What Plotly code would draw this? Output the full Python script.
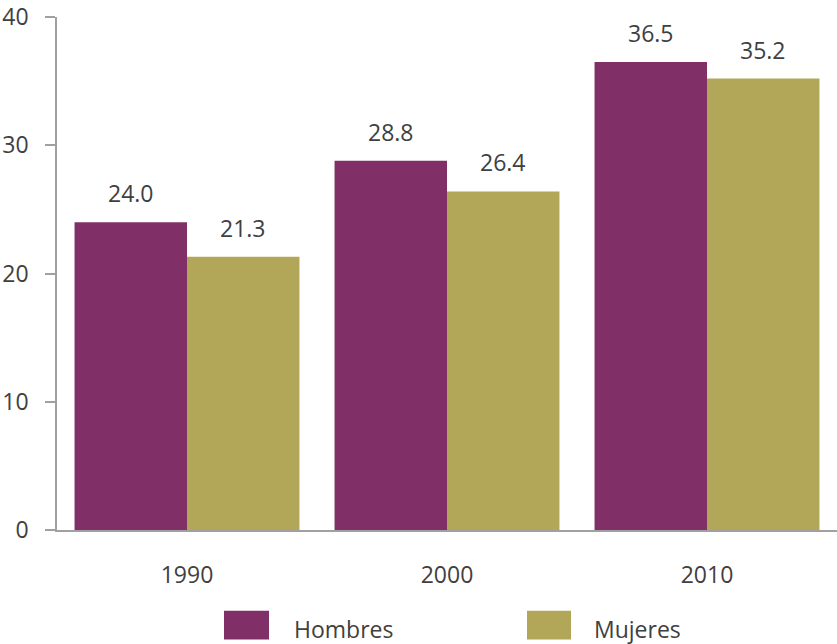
import plotly.graph_objects as go

years = ["1990", "2000", "2010"]
series_names = ["Hombres", "Mujeres"]
hombres = [24.0, 28.8, 36.5]
mujeres = [21.3, 26.4, 35.2]
y_ticks = [0, 10, 20, 30, 40]

colors = ["#803066", "#B2A658"]
font_family = "Open Sans"
text_color = "#404040"
fs = 23

fig = go.Figure()
for name, vals, col in zip(series_names, [hombres, mujeres], colors):
    fig.add_trace(go.Bar(x=years, y=vals, name=name, marker=dict(color=col, line=dict(width=0)),
                         showlegend=False))

# value labels (x given as category index)
for vals, shift in zip([hombres, mujeres], [-56, 56]):
    for i, v in enumerate(vals):
        fig.add_annotation(x=i, y=v, text=f"{v:.1f}", showarrow=False, xshift=shift, yshift=29,
                           yanchor="middle", font=dict(family=font_family, size=fs, color=text_color))

# custom legend
W, H = 780.0, 515.0
def px_x(p):
    return (p - 57) / W
def px_y(p):
    return (530 - p) / H
legend_items = [(224, 269, 292), (527, 571, 592)]
for (x0, x1, tx), name, col in zip(legend_items, series_names, colors):
    fig.add_shape(type="rect", xref="paper", yref="paper", x0=px_x(x0), x1=px_x(x1),
                  y0=px_y(640), y1=px_y(611), fillcolor=col, line=dict(width=0))
    fig.add_annotation(xref="paper", yref="paper", x=px_x(tx), y=px_y(629), text=name,
                       showarrow=False, xanchor="left", yanchor="middle",
                       font=dict(family=font_family, size=fs, color=text_color))

fig.update_layout(
    width=837, height=644,
    margin=dict(l=57, r=0, t=15, b=114),
    paper_bgcolor="white", plot_bgcolor="white",
    barmode="group", bargap=0.135, bargroupgap=0,
    font=dict(family=font_family, size=fs, color=text_color),
)
fig.update_yaxes(range=[0, 40.001], tickvals=y_ticks, showgrid=False, zeroline=False,
                 showline=True, linecolor="#A0A0A0", linewidth=1.5,
                 ticks="outside", ticklen=10, tickcolor="#A0A0A0", tickwidth=1.5,
                 ticklabelstandoff=12, ticklabeloverflow="allow",
                 tickfont=dict(size=fs, color=text_color))
fig.update_xaxes(type="category", range=[-0.5, len(years) - 0.5], showgrid=False, zeroline=False,
                 showline=True, linecolor="#A0A0A0", linewidth=1.5,
                 ticks="", ticklabelstandoff=24, tickfont=dict(size=fs, color=text_color))

fig.write_html("out.html")
